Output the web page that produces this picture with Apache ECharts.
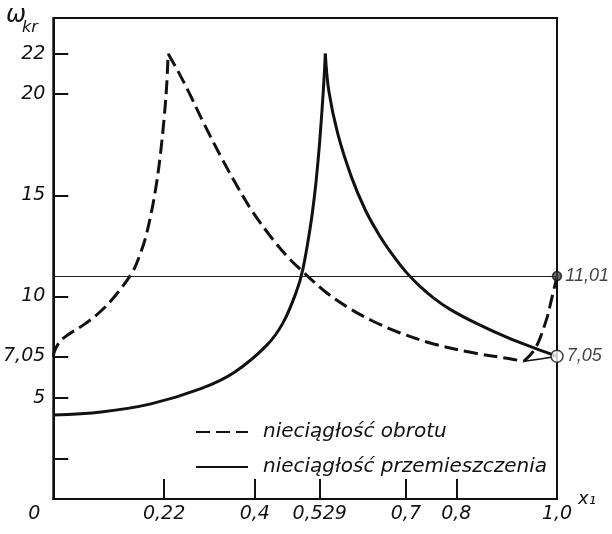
<!DOCTYPE html>
<html>
<head>
<meta charset="utf-8">
<script src="https://cdn.jsdelivr.net/npm/echarts@6/dist/echarts.min.js"></script>
<style>
  html, body { margin: 0; padding: 0; background: #fff; }
  #chart { width: 612px; height: 534px; }
</style>
</head>
<body>
<div id="chart"></div>
<script>
// krzywa przerywana - nieciaglosc obrotu
var obrotX = [0, 0.004, 0.014, 0.027, 0.060, 0.093, 0.125, 0.158, 0.171, 0.183, 0.195, 0.205, 0.213, 0.220, 0.225, 0.228,
              0.245, 0.269, 0.300, 0.334, 0.364, 0.394, 0.435, 0.462, 0.488, 0.542, 0.589, 0.635, 0.689, 0.755, 0.834, 0.901, 0.934,
              0.957, 0.979, 0.989, 1.0];
var obrotY = [7.05, 7.4, 7.8, 8.08, 8.6, 9.25, 10.1, 11.25, 12.0, 12.9, 14.2, 15.6, 17.1, 18.8, 20.4, 22.0,
              21.25, 20.1, 18.5, 16.85, 15.5, 14.25, 12.85, 12.05, 11.4, 10.2, 9.4, 8.78, 8.2, 7.66, 7.22, 6.95, 6.8,
              7.44, 8.86, 9.85, 11.01];
// cienki odcinek od minimum do punktu 7,05
var hookX = [0.934, 0.988, 1.0];
var hookY = [6.8, 7.0, 7.05];
// krzywa ciagla - nieciaglosc przemieszczenia
var przemX = [0, 0.095, 0.194, 0.293, 0.359, 0.424, 0.456, 0.482, 0.495, 0.510, 0.520, 0.528, 0.534, 0.5385, 0.54,
              0.547, 0.565, 0.592, 0.619, 0.646, 0.673, 0.700, 0.727, 0.754, 0.787, 0.834, 0.901, 0.961, 1.0];
var przemY = [4.15, 4.3, 4.7, 5.45, 6.25, 7.6, 8.7, 10.2, 11.3, 13.4, 15.3, 17.4, 19.4, 21.2, 22.0,
              20.15, 18.02, 15.9, 14.3, 13.08, 12.08, 11.22, 10.53, 9.95, 9.38, 8.75, 7.98, 7.4, 7.05];

var levelLine = 11.01;
var endPoints = [[1.0, 11.01], [1.0, 7.05]];
var endLabels = ['11,01', '7,05'];

var xTickValues = [0.22, 0.4, 0.529, 0.7, 0.8];
var xLabelValues = [0, 0.22, 0.4, 0.529, 0.7, 0.8, 1.0];
var xLabelTexts = ['0', '0,22', '0,4', '0,529', '0,7', '0,8', '1,0'];
var yTickValues = [22, 20, 15, 10, 7.05, 5, 2];
var yLabelValues = [22, 20, 15, 10, 7.05, 5, 4.15];
var yLabelTexts = ['22', '20', '15', '10', '7,05', '5', '4,15'];

function pairs(xs, ys, from, to) {
	var out = [];
	for (var i = from; i <= to; i++) out.push([xs[i], ys[i]]);
	return out;
}
function labelFor(values, texts, v) {
	for (var i = 0; i < values.length; i++) {
		if (Math.abs(values[i] - v) < 1e-6) return texts[i];
	}
	return '';
}
function peakIndex(ys) {
	var k = 0;
	for (var i = 1; i < ys.length; i++) if (ys[i] > ys[k]) k = i;
	return k;
}
function minIndexAfter(ys, start) {
	var k = start;
	for (var i = start; i < ys.length; i++) if (ys[i] < ys[k]) k = i;
	return k;
}

var FONT = 'DejaVu Sans';
var INK = '#111';
var NAME_OBROT = 'nieciągłość obrotu';
var NAME_PRZEM = 'nieciągłość przemieszczenia';

var pO = peakIndex(obrotY);
var mO = minIndexAfter(obrotY, pO);
var pP = peakIndex(przemY);

function curve(name, data, type, width) {
	return {
		name: name, type: 'line', data: data,
		symbol: 'none', smooth: 0.35,
		lineStyle: { color: INK, width: width, type: type },
		itemStyle: { color: INK }
	};
}

var dash = [14, 6];
var series = [
	curve(NAME_OBROT, pairs(obrotX, obrotY, 0, pO), dash, 3),
	curve(NAME_OBROT, pairs(obrotX, obrotY, pO, mO), dash, 3),
	curve(NAME_OBROT, pairs(obrotX, obrotY, mO, obrotX.length - 1), dash, 3),
	curve(NAME_PRZEM, pairs(przemX, przemY, 0, pP), 'solid', 3),
	curve(NAME_PRZEM, pairs(przemX, przemY, pP, przemX.length - 1), 'solid', 3),
	curve('hook', pairs(hookX, hookY, 0, hookX.length - 1), 'solid', 1.5)
];
series[3].markLine = {
	silent: true, symbol: ['none', 'none'],
	label: { show: false },
	lineStyle: { color: '#222', width: 1, type: 'solid' },
	data: [{ yAxis: levelLine }]
};
series.push({
	name: 'points', type: 'scatter', z: 5,
	data: [
		{ value: endPoints[0], symbolSize: 9, itemStyle: { color: '#444', borderColor: INK, borderWidth: 1.5 } },
		{ value: endPoints[1], symbolSize: 12, itemStyle: { color: '#fff', borderColor: INK, borderWidth: 1.5 } }
	],
	label: {
		show: true, position: 'right', distance: 3,
		fontFamily: 'Liberation Sans', fontStyle: 'italic', fontSize: 18, color: INK,
		formatter: function (p) { return endLabels[p.dataIndex]; }
	}
});

var chart = echarts.init(document.getElementById('chart'), null, { renderer: 'canvas' });
chart.setOption({
	animation: false,
	backgroundColor: '#fff',
	grid: {
		left: 53, right: 55, top: 18, bottom: 35,
		show: true, borderColor: INK, borderWidth: 2
	},
	xAxis: {
		type: 'value', min: 0, max: 1,
		name: 'x\u2081', nameLocation: 'end', nameGap: 4,
		nameTextStyle: { fontFamily: FONT, fontStyle: 'italic', fontSize: 18, color: INK, padding: [0, 0, 12, 0] },
		axisLine: { show: true, lineStyle: { color: INK, width: 2 } },
		axisTick: { show: true, inside: true, length: 20, customValues: xTickValues, lineStyle: { color: INK, width: 2 } },
		axisLabel: {
			show: true, margin: 6, customValues: xLabelValues,
			fontFamily: FONT, fontStyle: 'italic', fontSize: 19, color: INK,
			formatter: function (v) {
				if (v === 0) return '{o|0}';
				return labelFor(xLabelValues, xLabelTexts, v);
			},
			rich: { o: { fontFamily: FONT, fontStyle: 'italic', fontSize: 19, color: INK, padding: [0, 38, 0, 0] } }
		},
		splitLine: { show: false }
	},
	yAxis: {
		type: 'value', min: 0, max: 23.76,
		axisLine: { show: true, lineStyle: { color: INK, width: 2 } },
		axisTick: { show: true, inside: true, length: 15, customValues: yTickValues, lineStyle: { color: INK, width: 2 } },
		axisLabel: {
			show: true, margin: 8, customValues: yLabelValues,
			fontFamily: FONT, fontStyle: 'italic', fontSize: 19, color: INK,
			formatter: function (v) { return labelFor(yLabelValues, yLabelTexts, v); }
		},
		splitLine: { show: false }
	},
	legend: {
		orient: 'vertical', left: 190, top: 417,
		itemWidth: 52, itemHeight: 14, itemGap: 15,
		data: [NAME_OBROT, NAME_PRZEM],
		itemStyle: { opacity: 0 },
		textStyle: { fontFamily: FONT, fontStyle: 'italic', fontSize: 20, color: INK, padding: [0, 0, 0, 10] }
	},
	graphic: [
		{ type: 'text', left: 6, top: 4, style: { text: 'ω', font: 'italic 24px "DejaVu Sans"', fill: INK } },
		{ type: 'text', left: 22, top: 20, style: { text: 'kr', font: 'italic 16px "DejaVu Sans"', fill: INK } }
	],
	series: series
});
</script>
</body>
</html>
